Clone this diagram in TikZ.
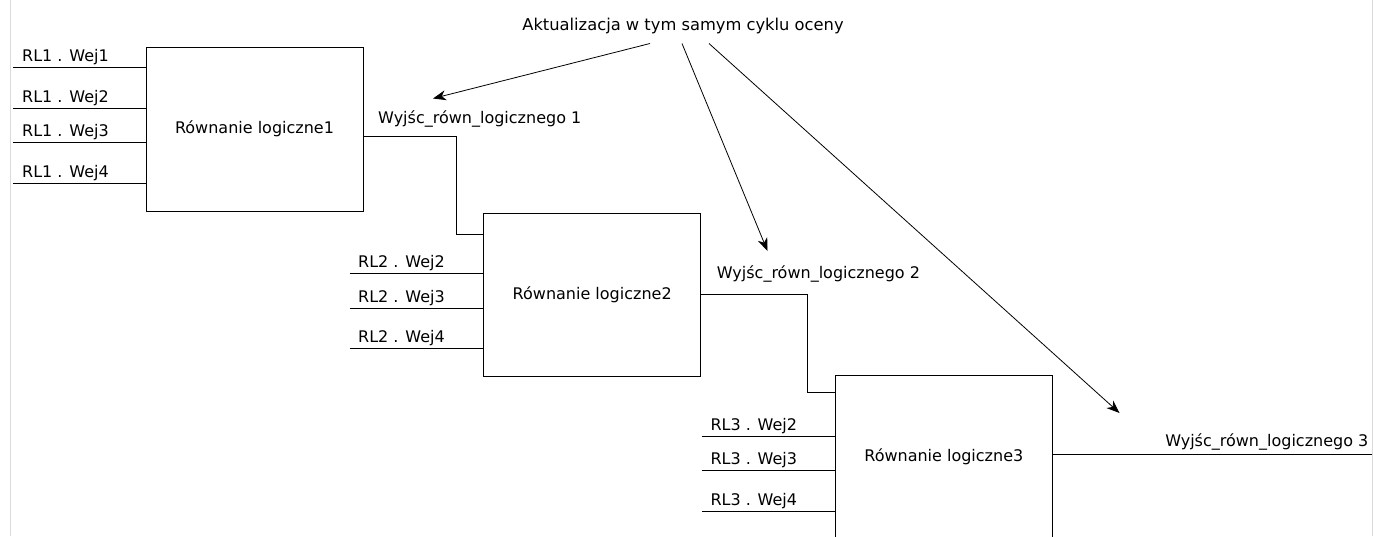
\documentclass[tikz,border=0pt]{standalone}
\usepackage{fontspec}
\setmainfont{DejaVu Sans}
\usetikzlibrary{arrows.meta}
\definecolor{framegray}{HTML}{DADADA}
\tikzset{
  blk/.style={draw=black, line width=0.9pt, minimum width=217pt, minimum height=163pt, inner sep=0pt, font=\fontsize{16}{19}\selectfont},
  lbl/.style={inner sep=0pt, font=\fontsize{16}{19}\selectfont},
  wire/.style={draw=black, line width=0.9pt},
  upd/.style={draw=black, line width=0.8pt, -{Stealth[length=13pt, width=10pt, inset=4pt]}},
  frame/.style={draw=framegray, line width=1pt}
}
\begin{document}
\begin{tikzpicture}[x=1pt, y=-1pt]
\useasboundingbox (0,0) rectangle (1373,536);
% page frame lines
\coordinate (fl1) at (10,0); \coordinate (fl2) at (10,536);
\coordinate (fr1) at (1372.5,0); \coordinate (fr2) at (1372.5,536);
\draw[frame] (fl1) -- (fl2);
\draw[frame] (fr1) -- (fr2);

% blocks
\node[blk, minimum height=164pt] (b1) at (254.5,129) {Równanie logiczne1};
\node[blk] (b2) at (592.2,294.5) {Równanie logiczne2};
\node[blk] (b3) at (943.8,456.9) {Równanie logiczne3};

% inputs block 1
\foreach \i/\yy in {1/67.7, 2/108.7, 3/142.3, 4/183.3}{
  \coordinate (a\i) at (13,\yy);
  \draw[wire] (a\i) -- (a\i -| b1.west);
  \node[lbl, anchor=base west] (la\i) at ([xshift=9pt, yshift=6pt]a\i) {RL1 . Wej\i};
}
% inputs block 2
\foreach \i/\yy in {2/273.7, 3/308, 4/348.3}{
  \coordinate (c\i) at (350,\yy);
  \draw[wire] (c\i) -- (c\i -| b2.west);
  \node[lbl, anchor=base west] (lc\i) at ([xshift=8pt, yshift=6pt]c\i) {RL2 . Wej\i};
}
% inputs block 3
\foreach \i/\yy in {2/436.7, 3/470.3, 4/511.7}{
  \coordinate (d\i) at (702.3,\yy);
  \draw[wire] (d\i) -- (d\i -| b3.west);
  \node[lbl, anchor=base west] (ld\i) at ([xshift=8pt, yshift=6pt]d\i) {RL3 . Wej\i};
}

% outputs
\coordinate (o1a) at (363,136.7);
\coordinate (o1b) at (456.3,136.7);
\coordinate (o1c) at (456.3,234);
\draw[wire] (o1a) -- (o1b) -- (o1c) -- (o1c -| b2.west);
\node[lbl, anchor=base west] (w1) at (378,123.3) {Wyjśc\_równ\_logicznego 1};

\coordinate (o2a) at (701,294.3);
\coordinate (o2b) at (807.7,294.3);
\coordinate (o2c) at (807.7,392.3);
\draw[wire] (o2a) -- (o2b) -- (o2c) -- (o2c -| b3.west);
\node[lbl, anchor=base west] (w2) at (716.7,278.3) {Wyjśc\_równ\_logicznego 2};

\coordinate (o3a) at (1052.7,454.3);
\coordinate (o3b) at (1372,454.3);
\draw[wire] (o3a) -- (o3b);
\node[lbl, anchor=base east] (w3) at (1368.5,446.7) {Wyjśc\_równ\_logicznego 3};

% title and update arrows
\node[lbl, anchor=base, font=\fontsize{16.3}{19}\selectfont] (t) at (683,30.5) {Aktualizacja w tym samym cyklu oceny};
\coordinate (s1) at (650,43.5);
\coordinate (s2) at (682,43.5);
\coordinate (s3) at (709,43.5);
\coordinate (e1) at (433,98.5);
\coordinate (e2) at (767.5,251);
\coordinate (e3) at (1119.5,413);
\draw[upd] (s1) -- (e1);
\draw[upd] (s2) -- (e2);
\draw[upd] (s3) -- (e3);
\end{tikzpicture}
\end{document}
